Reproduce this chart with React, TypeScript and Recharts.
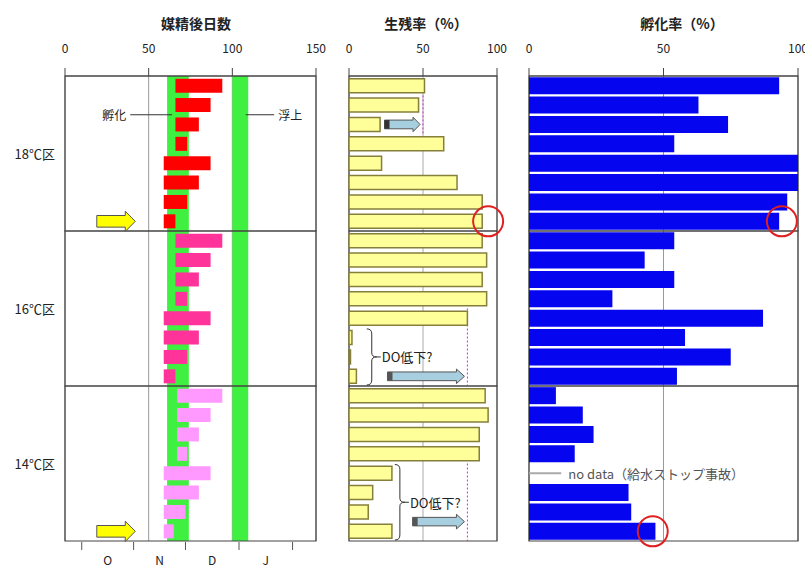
import React from "react";
import {
  BarChart,
  Bar,
  XAxis,
  YAxis,
  CartesianGrid,
  Cell,
  ReferenceArea,
  ReferenceDot,
} from "recharts";

const groupLabels = ["18℃区", "16℃区", "14℃区"];
const groupKeys = ["18", "16", "14"];
const lotNo = [1, 2, 3, 4, 5, 6, 7, 8];

// 媒精後日数: start / end of each lot
const devStart18 = [66, 66, 66, 66, 59, 59, 59, 59];
const devEnd18 = [94, 87, 80, 73, 87, 80, 73, 66];
const devStart16 = [66, 66, 66, 66, 59, 59, 59, 59];
const devEnd16 = [94, 87, 80, 73, 87, 80, 73, 66];
const devStart14 = [67, 67, 67, 67, 59, 59, 59, 59];
const devEnd14 = [94, 87, 80, 73, 87, 80, 72, 65];

// 生残率 (%)
const survival18 = [51, 47, 21, 64, 22, 73, 90, 90];
const survival16 = [90, 93, 90, 93, 80, 2, 1, 5];
const survival14 = [92, 94, 88, 88, 29, 16, 13, 29];

// 孵化率 (%)
const hatch18 = [93, 63, 74, 54, 100, 100, 96, 93];
const hatch16 = [54, 43, 54, 31, 87, 58, 75, 55];
const hatch14 = [10, 20, 24, 17, null, 37, 38, 47];

const hatchPeriod = [61, 74];
const swimUpPeriod = [100, 109.5];
const dayTicks = [0, 50, 100, 150];
const pctTicks = [0, 50, 100];
const monthStarts = [10, 41, 72, 104, 136];
const monthNames = ["O", "N", "D", "J"];

const W = 805;
const H = 567;
const FONT = "'Noto Sans CJK JP', 'Noto Sans', sans-serif";
const groupColors = ["#ff0000", "#ff3399", "#ff99ff"];
const frameColor = "#444";

const devStart = [devStart18, devStart16, devStart14];
const devEnd = [devEnd18, devEnd16, devEnd14];
const survival = [survival18, survival16, survival14];
const hatch = [hatch18, hatch16, hatch14];

const rows = groupKeys.flatMap((g, gi) =>
  lotNo.map((n, i) => ({
    row: `${g}-${n}`,
    group: gi,
    dev: [devStart[gi][i], devEnd[gi][i]],
    survival: survival[gi][i],
    hatch: hatch[gi][i],
  }))
);

const monthMid = monthNames.map((_, i) => (monthStarts[i] + monthStarts[i + 1]) / 2);
const monthTicks = [...monthStarts, ...monthMid].sort((a, b) => a - b);

const rk = (g: number, n: number) => `${groupKeys[g]}-${n}`;

function GroupTick(props: any) {
  const { x, y, payload } = props;
  const idx = rows.findIndex((r) => r.row === payload.value);
  if (idx % 8 !== 3) return <g />;
  const off = payload.offset ?? 9.7;
  return (
    <text x={x} y={y + off} textAnchor="end" dominantBaseline="central" fontSize={13} fill="#222">
      {groupLabels[Math.floor(idx / 8)]}
    </text>
  );
}

function MonthTick(props: any) {
  const { x, y, payload } = props;
  if (monthStarts.includes(payload.value)) {
    return <line x1={x} x2={x} y1={y + 1} y2={y + 9} stroke="#555" />;
  }
  const m = monthMid.indexOf(payload.value);
  return (
    <text x={x} y={y + 24} textAnchor="middle" fontSize={12} fill="#222">
      {monthNames[m]}
    </text>
  );
}

const arrowShape =
  (fill: string, stroke: string, body: number, head: number, headLen: number, cap?: string) =>
  (p: any) => {
    const { x, y, width, height } = p;
    const cy = y + height / 2;
    const bh = (height * body) / 2;
    const hh = (height * head) / 2;
    const xe = x + width;
    const xh = xe - headLen;
    const pts = [
      [x, cy - bh],
      [xh, cy - bh],
      [xh, cy - hh],
      [xe, cy],
      [xh, cy + hh],
      [xh, cy + bh],
      [x, cy + bh],
    ];
    return (
      <g>
        <polygon points={pts.map((q) => q.join(",")).join(" ")} fill={fill} stroke={stroke} strokeWidth={1} />
        {cap && <rect x={x} y={cy - bh} width={5} height={2 * bh} fill={cap} />}
      </g>
    );
  };

const leaderShape = (text: string, side: "left" | "right") => (p: any) => {
  const yy = p.y;
  return (
    <g>
      <line x1={p.x} x2={p.x + p.width} y1={yy} y2={yy} stroke="#333" strokeWidth={1} />
      <text
        x={side === "left" ? p.x - 4 : p.x + p.width + 4}
        y={yy}
        textAnchor={side === "left" ? "end" : "start"}
        dominantBaseline="central"
        fontSize={12}
        fill="#222"
      >
        {text}
      </text>
    </g>
  );
};

const dottedShape = (p: any) => (
  <line x1={p.x} x2={p.x} y1={p.y} y2={p.y + p.height} stroke="#cc33cc" strokeWidth={1} strokeDasharray="2 2" />
);

const bracketShape = (text: string) => (p: any) => {
  const x = p.x;
  const w = 5;
  const y0 = p.y + 1;
  const y1 = p.y + p.height - 1;
  const mid = (y0 + y1) / 2;
  const d = `M${x},${y0} Q${x + w},${y0} ${x + w},${y0 + 5} L${x + w},${mid - 4} Q${x + w},${mid} ${x + 2 * w},${mid} Q${x + w},${mid} ${x + w},${mid + 4} L${x + w},${y1 - 5} Q${x + w},${y1} ${x},${y1}`;
  return (
    <g>
      <path d={d} fill="none" stroke="#333" strokeWidth={1} />
      <line x1={x + 2 * w} x2={x + 2 * w + 4} y1={mid} y2={mid} stroke="#333" />
      <text x={x + 2 * w + 5} y={mid} dominantBaseline="central" fontSize={13} fill="#222">
        {text}
      </text>
    </g>
  );
};

const noDataShape = (p: any) => {
  const cy = p.y + p.height / 2;
  return (
    <g>
      <line x1={p.x} x2={p.x + p.width} y1={cy} y2={cy} stroke="#aaa" strokeWidth={2} />
      <text x={p.x + p.width + 7} y={cy} dominantBaseline="central" fontSize={13} fill="#555">
        no data（給水ストップ事故）
      </text>
    </g>
  );
};

const frames = groupKeys.map((_, gi) => (
  <ReferenceArea key={`f${gi}`} y1={rk(gi, 1)} y2={rk(gi, 8)} fill="none" stroke={frameColor} strokeWidth={1.2} />
));

const topAxisProps = {
  type: "number" as const,
  orientation: "top" as const,
  height: 30,
  tickSize: 8,
  tickMargin: 15,
  interval: 0 as const,
  stroke: frameColor,
  tick: { fontSize: 12, fill: "#222" },
};

const titleStyle = (cx: number): React.CSSProperties => ({
  position: "absolute",
  left: cx - 100,
  width: 200,
  top: 13,
  textAlign: "center",
  fontSize: 14,
  fontWeight: "bold",
  color: "#222",
});

const layer: React.CSSProperties = { position: "absolute", left: 0, top: 0 };

export default function App() {
  return (
    <div style={{ position: "absolute", left: 0, top: 0, width: W, height: H, background: "#fff", fontFamily: FONT, overflow: "hidden" }}>
      <div style={titleStyle(196)}>媒精後日数</div>
      <div style={titleStyle(426)}>生残率（%）</div>
      <div style={titleStyle(682)}>孵化率（%）</div>

      {/* days after insemination */}
      <div style={layer}>
        <BarChart width={W} height={H} data={rows} layout="vertical" barCategoryGap="14%" margin={{ top: 46, bottom: 0, left: 0, right: W - 316 }}>
          <CartesianGrid horizontal={false} stroke="#999" />
          <XAxis {...topAxisProps} domain={[0, 150]} ticks={dayTicks} />
          <XAxis
            xAxisId="m"
            type="number"
            orientation="bottom"
            domain={[0, 150]}
            allowDataOverflow
            ticks={monthTicks}
            interval={0}
            height={26}
            tickSize={0}
            tickMargin={0}
            axisLine={false}
            tickLine={false}
            tick={(p: any) => <MonthTick {...p} />}
          />
          <YAxis type="category" dataKey="row" width={65} interval={0} tickSize={0} tickMargin={10} axisLine={false} tickLine={false} tick={<GroupTick />} />
          <ReferenceArea x1={hatchPeriod[0]} x2={hatchPeriod[1]} fill="#40f040" fillOpacity={1} stroke="none" />
          <ReferenceArea x1={swimUpPeriod[0]} x2={swimUpPeriod[1]} fill="#40f040" fillOpacity={1} stroke="none" />
          {frames}
          <Bar dataKey="dev" isAnimationActive={false}>
            {rows.map((r) => (
              <Cell key={r.row} fill={groupColors[r.group]} />
            ))}
          </Bar>
          <ReferenceArea x1={39} x2={64} y1={rk(0, 3)} y2={rk(0, 3)} shape={leaderShape("孵化", "left")} />
          <ReferenceArea x1={108} x2={125} y1={rk(0, 3)} y2={rk(0, 3)} shape={leaderShape("浮上", "right")} />
          <ReferenceArea x1={19} x2={42} y1={rk(0, 8)} y2={rk(0, 8)} shape={arrowShape("#ffff00", "#555", 0.6, 1.05, 10)} />
          <ReferenceArea x1={19} x2={42} y1={rk(2, 8)} y2={rk(2, 8)} shape={arrowShape("#ffff00", "#555", 0.6, 1.05, 10)} />
        </BarChart>
      </div>

      {/* survival */}
      <div style={layer}>
        <BarChart width={W} height={H} data={rows} layout="vertical" barCategoryGap="14%" margin={{ top: 46, bottom: 26, left: 349, right: W - 497 }}>
          <CartesianGrid horizontal={false} stroke="#aaa" />
          <XAxis {...topAxisProps} domain={[0, 100]} ticks={pctTicks} />
          <YAxis type="category" dataKey="row" hide />
          {frames}
          <Bar dataKey="survival" fill="#ffff99" stroke="#857f3c" strokeWidth={1.5} isAnimationActive={false} />
          <ReferenceArea x1={50} x2={50.5} y1={rk(0, 2)} y2={rk(0, 3)} shape={dottedShape} />
          <ReferenceArea x1={80} x2={80.5} y1={rk(1, 5)} y2={rk(1, 8)} shape={dottedShape} />
          <ReferenceArea x1={80} x2={80.5} y1={rk(2, 5)} y2={rk(2, 8)} shape={dottedShape} />
          <ReferenceArea x1={24} x2={48} y1={rk(0, 3)} y2={rk(0, 3)} shape={arrowShape("#a8cfe0", "#555", 0.45, 0.75, 7, "#333")} />
          <ReferenceArea x1={26} x2={78} y1={rk(1, 8)} y2={rk(1, 8)} shape={arrowShape("#a8cfe0", "#555", 0.45, 0.75, 8, "#555")} />
          <ReferenceArea x1={43} x2={78} y1={rk(2, 7)} y2={rk(2, 8)} shape={arrowShape("#a8cfe0", "#555", 0.22, 0.38, 8, "#555")} />
          <ReferenceArea x1={12} x2={16} y1={rk(1, 6)} y2={rk(1, 8)} shape={bracketShape("DO低下?")} />
          <ReferenceArea x1={31} x2={35} y1={rk(2, 5)} y2={rk(2, 8)} shape={bracketShape("DO低下?")} />
          <ReferenceDot x={94} y={rk(0, 8)} r={15} fill="none" stroke="#e02020" strokeWidth={2} />
        </BarChart>
      </div>

      {/* hatching */}
      <div style={layer}>
        <BarChart width={W} height={H} data={rows} layout="vertical" barCategoryGap="6%" margin={{ top: 46, bottom: 26, left: 529, right: W - 798 }}>
          <CartesianGrid horizontal={false} stroke="#999" />
          <XAxis {...topAxisProps} domain={[0, 100]} ticks={pctTicks} />
          <YAxis type="category" dataKey="row" hide />
          {frames}
          <Bar dataKey="hatch" fill="#0505f0" isAnimationActive={false} />
          <ReferenceArea x1={0} x2={12} y1={rk(2, 5)} y2={rk(2, 5)} shape={noDataShape} />
          <ReferenceDot x={94} y={rk(0, 8)} r={15} fill="none" stroke="#e02020" strokeWidth={2} />
          <ReferenceDot x={46} y={rk(2, 8)} r={15} fill="none" stroke="#e02020" strokeWidth={2} />
        </BarChart>
      </div>
    </div>
  );
}
